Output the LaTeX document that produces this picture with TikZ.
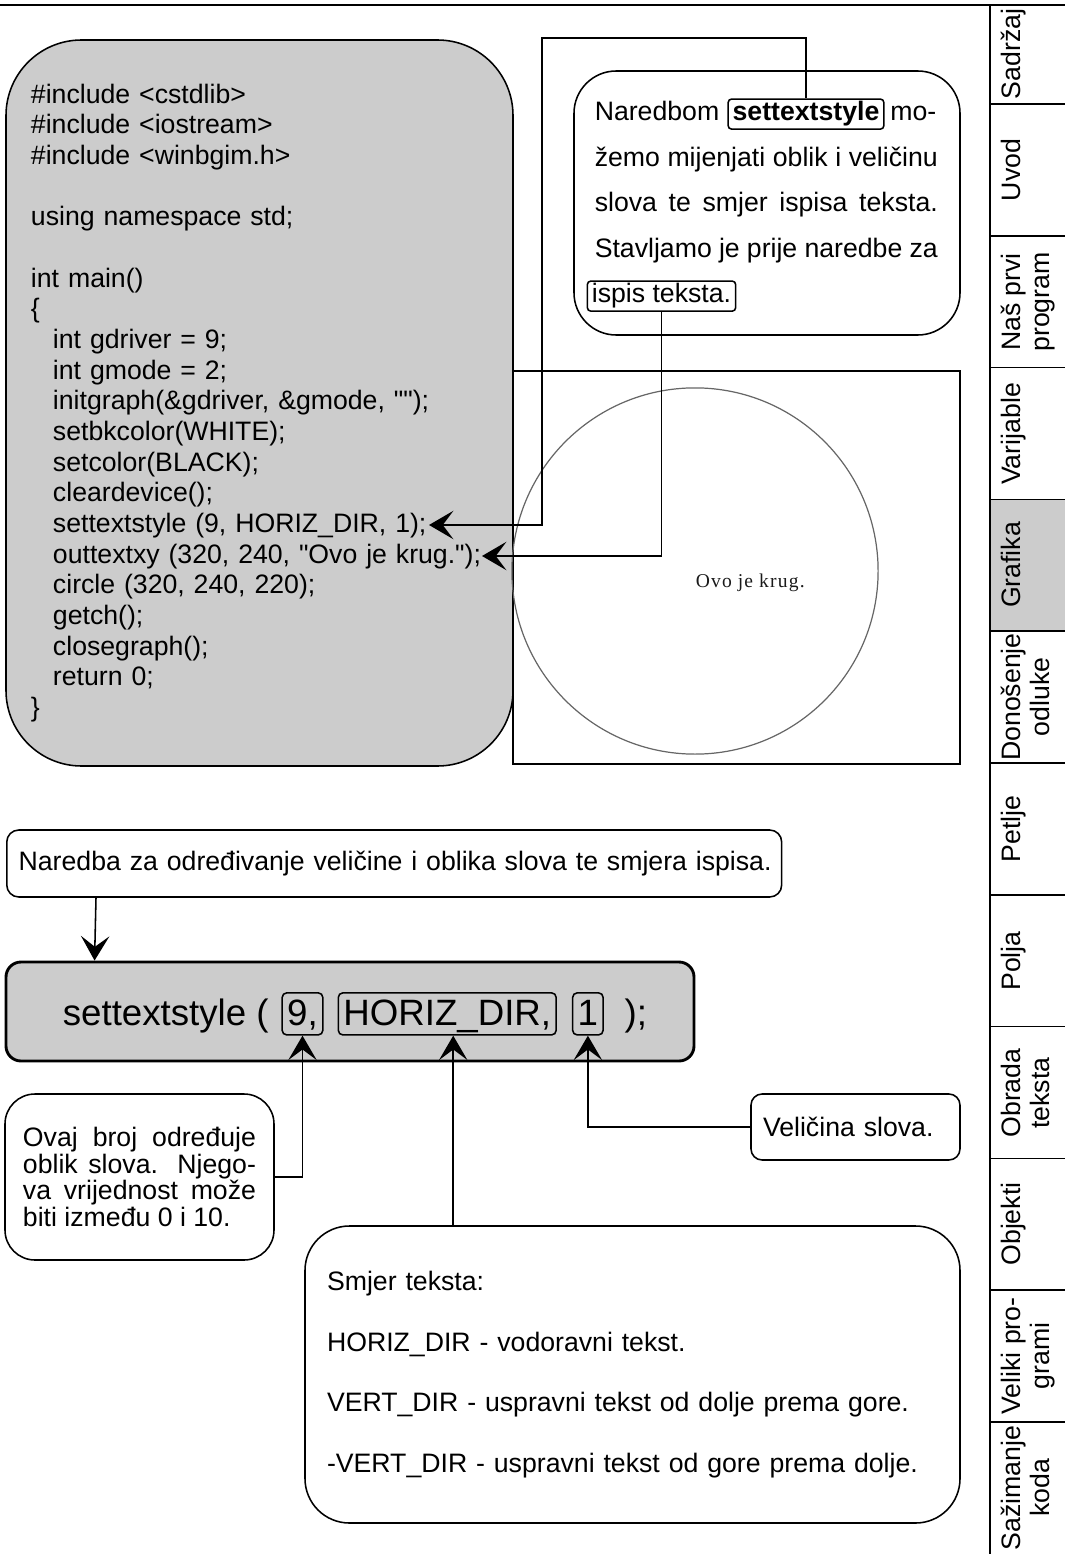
\documentclass[tikz,border=0pt]{standalone}
\usepackage{fontspec}
\setmainfont{Liberation Sans}[Ligatures=TeXOff]
\newfontfamily\screenfont[LetterSpace=6]{Liberation Serif}
\usepackage{tikz}
\usetikzlibrary{arrows.meta,positioning}
\definecolor{Panel}{HTML}{CCCCCC}
\definecolor{Ink}{HTML}{1A1A1A}
\newcommand{\codeindent}{\hspace*{9.9pt}}

\begin{document}
\begin{tikzpicture}[x=0.45pt, y=-0.45pt, line width=0.7pt,
  every node/.style={font=\fontsize{12}{13.8}\selectfont},
  box/.style={draw, rounded corners=#1, inner sep=0pt},
  box/.default=5pt,
  tag/.style={draw, rounded corners=1.5pt, inner xsep=2pt, inner ysep=0pt, minimum height=13.5pt},
  argbox/.style={draw, rounded corners=2pt, inner xsep=2.25pt, inner ysep=2.45pt, text height=12pt, text depth=2pt, font=\fontsize{16.5}{18}\selectfont},
  pointer/.style={-{Stealth[length=11pt, width=12.8pt, inset=4.8pt]}},
  sidetab/.style={rotate=90, anchor=north, inner sep=0pt, align=center, font=\fontsize{12}{13}\selectfont}]
  \useasboundingbox (0,0) rectangle (1065,1554);

  % side menu
  \draw (0,5) -- (1065,5);
  \fill[Panel] (990,499.4) rectangle (1065,631.2);
  \draw (990,5) -- (990,1554);
  \foreach \k in {0,...,10}
    \draw (990,{104+131.8*\k}) -- (1065,{104+131.8*\k});
  \foreach \lbl/\cy [count=\i] in {Sadržaj/54, Uvod/170, {Naš prvi\\program}/302, Varijable/434,
      Grafika/565, {Donošenje\\odluke}/697, Petlje/829, Polja/961, {Obrada\\teksta}/1093,
      Objekti/1224, {Veliki pro-\\grami}/1356, {Sažimanje\\koda}/1488}
    \node[sidetab] (tab\i) at (1000,\cy) {\lbl};

  % program listing and its output window
  \node[box=34pt, fill=Panel, minimum width=228.15pt, minimum height=326.7pt, text width=205.65pt, align=left] (code) at (259.5,403) {%
    \#include <cstdlib>\\
    \#include <iostream>\\
    \#include <winbgim.h>\\[13.8pt]
    using namespace std;\\[13.8pt]
    int main()\\
    \{\\
    \codeindent int gdriver = 9;\\
    \codeindent int gmode = 2;\\
    \codeindent initgraph(\&gdriver, \&gmode, "");\\
    \codeindent setbkcolor(WHITE);\\
    \codeindent setcolor(BLACK);\\
    \codeindent cleardevice();\\
    \codeindent settextstyle (9, HORIZ\_DIR, 1);\\
    \codeindent outtextxy (320, 240, "Ovo je krug.");\\
    \codeindent circle (320, 240, 220);\\
    \codeindent getch();\\
    \codeindent closegraph();\\
    \codeindent return 0;\\
    \}};
  \coordinate (styleline) at (429,525);
  \coordinate (printline) at (482,556);

  \node[draw, minimum width=201.15pt, minimum height=176.85pt, inner sep=0pt] (screen) at (736.5,567.5) {};
  \draw[black!60, line width=0.55pt] (695,571) circle[radius=82.4pt];
  \node[anchor=base west, inner sep=0pt, text=Ink, font=\screenfont\fontsize{8.8}{10}\selectfont] (krug) at (695,587) {Ovo je krug.};

  % note about the command
  \node[box=19pt, fill=white, minimum width=173.7pt, minimum height=118.8pt] (note) at (767,203) {};
  \node[anchor=base west, inner sep=0pt] (noteA) at (594,121) {Naredbom};
  \node[tag, anchor=base, font=\bfseries\fontsize{12}{13.8}\selectfont] (kwstyle) at (806,121) {settextstyle};
  \node[anchor=base east, inner sep=0pt] (noteB) at (937,121) {mo-};
  \node[anchor=base west, inner sep=0pt] (noteC) at (594,167) {\makebox[154.35pt][s]{žemo mijenjati oblik i veličinu}};
  \node[anchor=base west, inner sep=0pt] (noteD) at (594,212) {\makebox[154.35pt][s]{slova te smjer ispisa teksta.}};
  \node[anchor=base west, inner sep=0pt] (noteE) at (594,258) {\makebox[154.35pt][s]{Stavljamo je prije naredbe za}};
  \node[tag, anchor=base] (kwprint) at (661.5,303) {ispis teksta.};

  \draw[pointer] (kwstyle.north) -- (806,38) -| (542,525) -- (styleline);
  \draw[pointer] (kwprint.south) |- (printline);

  % the call and its arguments
  \node[box=5.4pt, anchor=west, text width=343pt, inner xsep=2.85pt, minimum height=30.15pt, align=left] (cmdnote) at (6,863.5) {\hspace*{2.5pt}Naredba za određivanje veličine i oblika slova te smjera ispisa.};
  \node[box=6.75pt, fill=Panel, line width=1.3pt, minimum width=309.6pt, minimum height=44.55pt] (call) at (350,1011.5) {};
  \node[argbox, anchor=base] (argfont) at (302.5,1025) {9,};
  \node[argbox, base right=6.3pt of argfont] (argdir) {HORIZ\_DIR,};
  \node[argbox, base right=6.75pt of argdir] (argsize) {1};
  \node[inner sep=0pt, font=\fontsize{16.5}{18}\selectfont, base left=5.4pt of argfont] (fname) {settextstyle (};
  \node[inner sep=0pt, font=\fontsize{16.5}{18}\selectfont, base right=9pt of argsize] (fclose) {);};

  \draw[pointer] ([xshift=40.5pt]cmdnote.south west) -- ([xshift=40.5pt]call.north west);

  \node[box=13.5pt, text width=104.85pt, inner xsep=8.1pt, minimum height=74.7pt, align=justify, font=\fontsize{12}{12}\selectfont] (fontnote) at (139.5,1177) {Ovaj broj određuje\linebreak oblik slova. Njego-\linebreak va vrijednost može\linebreak biti između 0 i 10.};
  \node[box=5pt, text width=83.25pt, inner xsep=5.4pt, minimum height=29.7pt, align=left] (sizenote) at (855.5,1127) {Veličina slova.};
  \node[box=20pt, text width=274.95pt, inner xsep=9.9pt, minimum height=133.65pt, align=left, font=\fontsize{12}{27.3}\selectfont] (dirnote) at (632.5,1374.5) {Smjer teksta:\\HORIZ\_DIR - vodoravni tekst.\\VERT\_DIR - uspravni tekst od dolje prema gore.\\-VERT\_DIR - uspravni tekst od gore prema dolje.};
  \coordinate (dirhook) at ([xshift=67.05pt]dirnote.north west);

  \draw[pointer] (fontnote.east) -| (argfont.south);
  \draw[pointer] (dirhook) -- (dirhook |- argdir.south);
  \draw[pointer] (sizenote.west) -| (argsize.south);
\end{tikzpicture}
\end{document}
